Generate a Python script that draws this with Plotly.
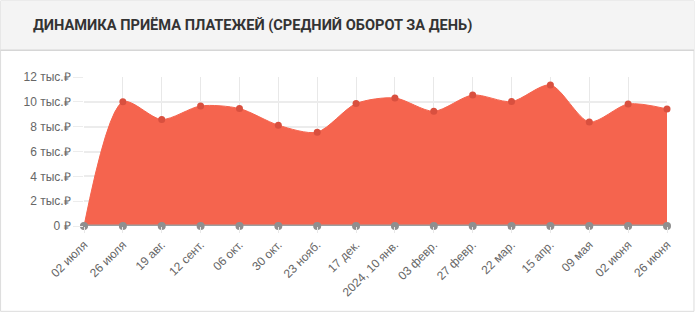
import plotly.graph_objects as go

categories = ["02 июля", "26 июля", "19 авг.", "12 сент.", "06 окт.", "30 окт.", "23 нояб.",
              "17 дек.", "2024, 10 янв.", "03 февр.", "27 февр.", "22 мар.", "15 апр.",
              "09 мая", "02 июня", "26 июня"]
turnover = [0, 10.0, 8.58, 9.67, 9.46, 8.12, 7.56, 9.86, 10.31, 9.24, 10.55, 10.02, 11.36, 8.38, 9.83, 9.43]
baseline = [0] * len(categories)
y_ticks = [0, 2, 4, 6, 8, 10, 12]
y_labels = ["0 ₽", "2 тыс.₽", "4 тыс.₽", "6 тыс.₽", "8 тыс.₽", "10 тыс.₽", "12 тыс.₽"]
title = "ДИНАМИКА ПРИЁМА ПЛАТЕЖЕЙ (СРЕДНИЙ ОБОРОТ ЗА ДЕНЬ)"

W, H = 695, 312
L, R, T, B = 84, 27.5, 76.7, 86
pw, ph = W - L - R, H - T - B

def px(x):
    return (x - L) / pw

def py(y):
    return (H - B - y) / ph

xs = list(range(len(categories)))

fig = go.Figure()
fig.add_trace(go.Scatter(
    x=xs, y=turnover, mode="lines+markers", line=dict(shape="spline", smoothing=0.8, color="#f5644e", width=1),
    fill="tozeroy", fillcolor="#f5644e",
    marker=dict(color="#d9503f", size=7), cliponaxis=False, hoverinfo="skip"))
fig.add_trace(go.Scatter(
    x=xs, y=baseline, mode="lines+markers", line=dict(color="#9e9e9e", width=3),
    marker=dict(color="#8f8f8f", size=8), cliponaxis=False, hoverinfo="skip"))

shapes = [
    dict(type="rect", xref="paper", yref="paper", x0=px(0.5), x1=px(694.5), y0=py(311.5), y1=py(0.5),
         line=dict(color="#dcdcdc", width=1), fillcolor="white", layer="below"),
    dict(type="rect", xref="paper", yref="paper", x0=px(0.5), x1=px(694.5), y0=py(50), y1=py(0.5),
         line=dict(width=0), fillcolor="#f4f4f4", layer="below"),
    dict(type="line", xref="paper", yref="paper", x0=px(0.5), x1=px(694.5), y0=py(50), y1=py(50),
         line=dict(color="#d6d6d6", width=1.5), layer="below"),
]

fig.update_layout(
    width=W, height=H, margin=dict(l=L, r=R, t=T, b=B),
    paper_bgcolor="white", plot_bgcolor="white", showlegend=False,
    font=dict(family="Liberation Sans, Arial", size=12, color="#666666"),
    shapes=shapes,
    annotations=[dict(text="<b>" + title + "</b>", xref="paper", yref="paper", x=px(31), y=py(25),
                      xanchor="left", yanchor="middle", showarrow=False,
                      font=dict(family="Roboto", size=14.6, color="#333333"))],
    xaxis=dict(range=[0, 15], tickvals=xs, ticktext=categories, tickangle=-45,
               showgrid=True, gridcolor="#e8e8e8", gridwidth=1, zeroline=False,
               ticks="outside", ticklen=6, tickcolor="#e8e8e8", showline=False),
    yaxis=dict(range=[0, 12], tickvals=y_ticks, ticktext=y_labels,
               showgrid=True, gridcolor="#ececec", gridwidth=2, zeroline=False,
               ticks="outside", ticklen=10, tickcolor="#ececec", showline=False),
)
fig.write_html("out.html")
